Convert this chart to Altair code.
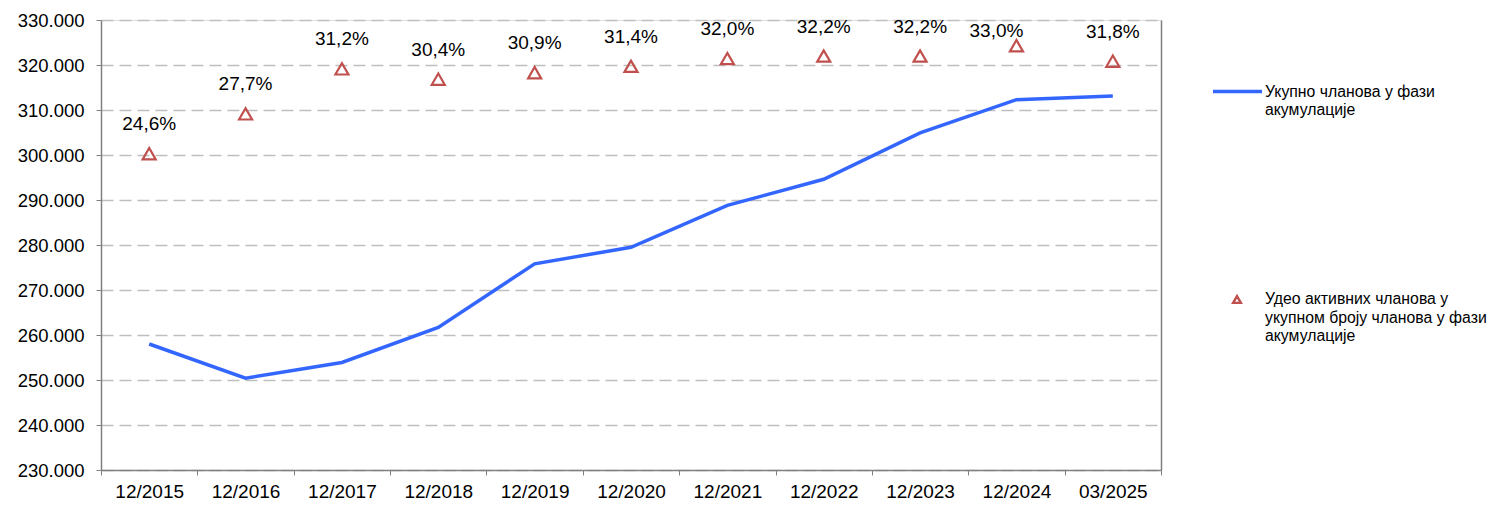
import altair as alt
import pandas as pd

periods = ["12/2015", "12/2016", "12/2017", "12/2018", "12/2019", "12/2020",
           "12/2021", "12/2022", "12/2023", "12/2024", "03/2025"]
members = [258000, 250400, 253900, 261700, 275800, 279500,
           288800, 294600, 304900, 312300, 313100]
share = [24.6, 27.7, 31.2, 30.4, 30.9, 31.4, 32.0, 32.2, 32.2, 33.0, 31.8]
share_labels = ["24,6%", "27,7%", "31,2%", "30,4%", "30,9%", "31,4%",
                "32,0%", "32,2%", "32,2%", "33,0%", "31,8%"]
legend_line = ["Укупно чланова у фази", "акумулације"]
legend_tri = ["Удео активних чланова у", "укупном броју чланова у фази", "акумулације"]

BLUE = "#3366FF"
RED = "#C0504D"
GRAY = "#808080"
FONT = "Liberation Sans"

df = pd.DataFrame({"period": periods, "members": members, "share": share, "label": share_labels})
one = pd.DataFrame({"k": [0]})

x_enc = alt.X(
    "period:N", sort=periods, title=None,
    scale=alt.Scale(type="band", paddingInner=0, paddingOuter=0),
    axis=alt.Axis(labelAngle=0, labelFontSize=19, labelColor="#000000", labelPadding=7,
                  tickBand="extent", tickSize=5, tickColor=GRAY, domainColor=GRAY,
                  domainWidth=1.5, grid=False),
)

line = alt.Chart(df).mark_line(color=BLUE, strokeWidth=3.5).encode(
    x=x_enc,
    y=alt.Y("members:Q", title=None,
            scale=alt.Scale(domain=[230000, 330000], nice=False, zero=False),
            axis=alt.Axis(values=list(range(230000, 330001, 10000)),
                          labelExpr="replace(format(datum.value, ',d'), ',', '.')",
                          labelFontSize=18.5, labelColor="#000000", labelPadding=12,
                          tickSize=5, tickColor=GRAY, domainColor=GRAY, domainWidth=1.5,
                          grid=True, gridDash=[12, 6], gridColor="#BFBFBF", gridWidth=1.5)),
)

pts = alt.Chart(df).mark_point(shape="triangle-up", filled=False, color=RED,
                               strokeWidth=2.2, size=170, opacity=1).encode(
    x=x_enc,
    y=alt.Y("share:Q", title=None, scale=alt.Scale(domain=[0, 35], nice=False),
            axis=alt.Axis(orient="right", labels=False, ticks=False, grid=False,
                          domainColor=GRAY, domainWidth=1.5)),
)

share_y = alt.Y("share:Q", scale=alt.Scale(domain=[0, 35], nice=False), axis=None)

# labels that fit above their marker
txt = alt.Chart(df).transform_filter("datum.share <= 32.5").mark_text(
    fontSize=19, dy=-29.5, color="#000000").encode(x=x_enc, y=share_y, text="label:N")
# labels that would leave the plot area are pushed down and to the left (as Excel does)
txt_top = alt.Chart(df).transform_filter("datum.share > 32.5").mark_text(
    fontSize=19, dy=-15, dx=-20, color="#000000").encode(x=x_enc, y=share_y, text="label:N")

leg_rule = alt.Chart(one).mark_rule(color=BLUE, strokeWidth=3.5).encode(
    x=alt.value(1112), x2=alt.value(1161), y=alt.value(71.5))
leg_text1 = alt.Chart(one).mark_text(align="left", baseline="middle", fontSize=15.8,
                                     lineHeight=18.5, color="#000000").encode(
    x=alt.value(1164), y=alt.value(71.7), text=alt.value(legend_line))
leg_pt = alt.Chart(one).mark_point(shape="triangle-up", filled=False, color=RED,
                                   strokeWidth=2.4, size=60, opacity=1).encode(
    x=alt.value(1136), y=alt.value(279.5))
leg_text2 = alt.Chart(one).mark_text(align="left", baseline="middle", fontSize=15.8,
                                     lineHeight=18.5, color="#000000").encode(
    x=alt.value(1164), y=alt.value(279), text=alt.value(legend_tri))

chart = alt.layer(line, pts, txt, txt_top, leg_rule, leg_text1, leg_pt, leg_text2).resolve_scale(
    y="independent"
).properties(
    width=1060, height=450,
    autosize=alt.AutoSizeParams(type="none"),
    padding={"left": 93, "top": 12, "right": 328, "bottom": 34},
).configure_view(stroke=None).configure(font=FONT)

chart.save("out.html", embed_options={"renderer": "svg", "actions": False})
